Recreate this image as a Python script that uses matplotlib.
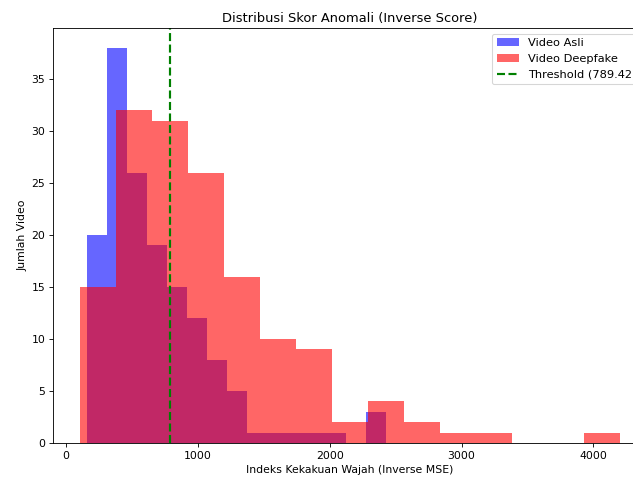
import matplotlib
matplotlib.use("Agg")
import matplotlib.pyplot as plt

# bin edges and counts
asli_edges = [161, 312, 463, 614, 765, 916, 1067, 1218, 1369, 1520,
              1671, 1822, 1973, 2124, 2275, 2426]
asli_counts = [20, 38, 26, 19, 15, 12, 8, 5, 1, 1, 1, 1, 1, 0, 3]

fake_edges = [106, 379, 652, 925, 1198, 1471, 1744, 2017, 2290, 2563,
              2836, 3109, 3382, 3655, 3928, 4201]
fake_counts = [15, 32, 31, 26, 16, 10, 9, 2, 4, 2, 1, 1, 0, 0, 1]

threshold = 789.42

DPI = 78
fig = plt.figure(figsize=(633 / DPI, 479 / DPI), dpi=DPI)
# axes run past the right edge, like the cropped original
ax = fig.add_axes([53 / 633, 36 / 479, 594 / 633, 415 / 479])

ax.hist(asli_edges[:-1], bins=asli_edges, weights=asli_counts,
        color='blue', alpha=0.6, label='Video Asli')
ax.hist(fake_edges[:-1], bins=fake_edges, weights=fake_counts,
        color='red', alpha=0.6, label='Video Deepfake')
ax.axvline(threshold, color='green', linestyle='--', linewidth=2,
           label=f'Threshold ({threshold:.2f})')

ax.set_title('Distribusi Skor Anomali (Inverse Score)')
ax.set_xlabel('Indeks Kekakuan Wajah (Inverse MSE)')
ax.set_ylabel('Jumlah Video')
ax.legend(loc='upper right', fontsize=10.5)

fig.savefig('out.png', dpi=DPI)
